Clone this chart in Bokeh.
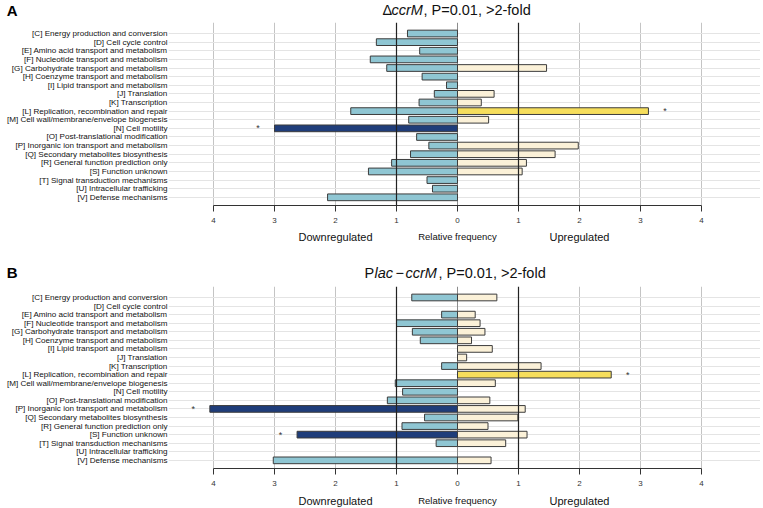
from bokeh.plotting import figure
from bokeh.models import (Range1d, FixedTicker, Span, ColumnDataSource,
                          CustomJSTickFormatter)
from bokeh.layouts import column
from bokeh.core.properties import value
from bokeh.embed import file_html
from bokeh.resources import INLINE

FONT = "Liberation Sans"

categories = [
    "[C] Energy production and conversion",
    "[D] Cell cycle control",
    "[E] Amino acid transport and metabolism",
    "[F] Nucleotide transport and metabolism",
    "[G] Carbohydrate transport and metabolism",
    "[H] Coenzyme transport and metabolism",
    "[I] Lipid transport and metabolism",
    "[J] Translation",
    "[K] Transcription",
    "[L] Replication, recombination and repair",
    "[M] Cell wall/membrane/envelope biogenesis",
    "[N] Cell motility",
    "[O] Post-translational modification",
    "[P] Inorganic ion transport and metabolism",
    "[Q] Secondary metabolites biosynthesis",
    "[R] General function prediction only",
    "[S] Function unknown",
    "[T] Signal transduction mechanisms",
    "[U] Intracellular trafficking",
    "[V] Defense mechanisms",
]

# Panel A: delta ccrM
a_down = [0.82, 1.33, 0.62, 1.43, 1.16, 0.58, 0.18, 0.38, 0.63, 1.75,
          0.80, 3.00, 0.67, 0.47, 0.77, 1.08, 1.46, 0.50, 0.41, 2.13]
a_up = [0, 0, 0, 0, 1.46, 0, 0, 0.60, 0.39, 3.13,
        0.51, 0, 0, 1.98, 1.60, 1.13, 1.06, 0, 0, 0]
a_sig_down = ["N"]
a_sig_up = ["L"]

# Panel B: Plac-ccrM
b_down = [0.75, 0, 0.26, 1.00, 0.74, 0.61, 0, 0, 0.26, 0,
          1.02, 0.90, 1.15, 4.06, 0.54, 0.91, 2.63, 0.35, 0, 3.02]
b_up = [0.645, 0, 0.29, 0.37, 0.45, 0.23, 0.57, 0.15, 1.37, 2.52,
        0.62, 0, 0.53, 1.11, 0.99, 0.50, 1.14, 0.79, 0, 0.55]
b_sig_down = ["P", "S"]
b_sig_up = ["L"]

x_ticks = [-4, -3, -2, -1, 0, 1, 2, 3, 4]
side_labels = ["Downregulated", "Relative frequency", "Upregulated"]
side_pos = [-2, 0, 2]

C_DOWN = "#8fc6d3"
C_DOWN_SIG = "#1f3d7a"
C_UP = "#fbf1d8"
C_UP_SIG = "#f6de5c"
OUTLINE = "#3c3c3c"

W = 760
LEFT = 168
PX = 61.0          # pixels per unit
ZERO = 457         # page x of value 0
X0, X1 = (LEFT - ZERO) / PX, (W - ZERO) / PX
Y0, Y1 = -0.95, len(categories) - 1 + 1.28


def plain(h, with_y_axis=False):
    f = figure(width=W, height=h, output_backend="svg", toolbar_location=None,
               title=None, x_range=Range1d(X0, X1), y_range=Range1d(h, 0),
               x_axis_type=None, y_axis_type="linear" if with_y_axis else None,
               min_border_left=LEFT, min_border_right=0,
               min_border_top=0, min_border_bottom=0)
    f.outline_line_color = None
    f.background_fill_color = "white"
    f.border_fill_color = "white"
    f.grid.visible = False
    return f


def header(h, yc, letter, parts):
    f = plain(h, with_y_axis=True)
    ya = f.yaxis[0]
    ya.ticker = FixedTicker(ticks=[yc])
    ya.major_label_overrides = {yc: letter}
    ya.axis_line_color = None
    ya.major_tick_line_color = None
    ya.major_tick_out = 0
    ya.major_tick_in = 0
    ya.minor_tick_line_color = None
    ya.minor_tick_out = 0
    ya.major_label_standoff = LEFT - 6 - 11
    ya.major_label_text_font = FONT
    ya.major_label_text_font_size = "15px"
    ya.major_label_text_font_style = "bold"
    ya.major_label_text_color = "#000000"
    for off, txt, style in parts:
        f.text(x=[0], y=[yc], text=[txt], x_offset=off, text_font=value(FONT),
               text_font_size="14.5px", text_font_style=style, text_align="left",
               text_baseline="middle", text_color="#111111")
    return f


def footer(h, yc):
    f = plain(h)
    src = ColumnDataSource(dict(x=side_pos, y=[yc] * 3, t=side_labels,
                                s=["11px", "9.5px", "11px"]))
    f.text(x="x", y="y", text="t", source=src, text_font=value(FONT),
           text_font_size="s", text_align="center", text_baseline="middle",
           text_color="#111111")
    return f


def main_panel(down, up, sig_down, sig_up, height, bottom):
    n = len(categories)
    ypos = [n - 1 - i for i in range(n)]
    codes = [c[1] for c in categories]

    p = figure(width=W, height=height, output_backend="svg", toolbar_location=None,
               title=None, x_range=Range1d(X0, X1), y_range=Range1d(Y0, Y1),
               min_border_left=LEFT, min_border_right=0,
               min_border_top=0, min_border_bottom=bottom)
    p.outline_line_color = None
    p.background_fill_color = "white"
    p.border_fill_color = "white"

    p.xgrid.ticker = FixedTicker(ticks=[-4, -3, -2, 2, 3, 4])
    p.xgrid.grid_line_color = "#c4c4c4"
    p.ygrid.ticker = FixedTicker(ticks=ypos)
    p.ygrid.grid_line_color = "#e4e4e4"
    p.add_layout(Span(location=0, dimension="height", line_color="#8c8c8c",
                      line_width=1, level="underlay"))

    dsrc = ColumnDataSource(dict(
        y=[ypos[i] for i in range(n) if down[i] > 0],
        left=[-down[i] for i in range(n) if down[i] > 0],
        color=[C_DOWN_SIG if codes[i] in sig_down else C_DOWN
               for i in range(n) if down[i] > 0],
    ))
    p.hbar(y="y", left="left", right=0, height=0.78, source=dsrc,
           fill_color="color", line_color=OUTLINE, line_width=1)
    usrc = ColumnDataSource(dict(
        y=[ypos[i] for i in range(n) if up[i] > 0],
        right=[up[i] for i in range(n) if up[i] > 0],
        color=[C_UP_SIG if codes[i] in sig_up else C_UP
               for i in range(n) if up[i] > 0],
    ))
    p.hbar(y="y", left=0, right="right", height=0.78, source=usrc,
           fill_color="color", line_color=OUTLINE, line_width=1)

    sx, sy = [], []
    for i in range(n):
        if codes[i] in sig_down:
            sx.append(-down[i] - 0.27); sy.append(ypos[i])
        if codes[i] in sig_up:
            sx.append(up[i] + 0.27); sy.append(ypos[i])
    ssrc = ColumnDataSource(dict(x=sx, y=sy, t=["*"] * len(sx)))
    p.text(x="x", y="y", text="t", source=ssrc, text_font=value(FONT),
           text_font_size="9px", text_align="center", text_baseline="middle",
           text_color="#333333")

    for loc in (-1, 1):
        p.add_layout(Span(location=loc, dimension="height", line_color="#222222",
                          line_width=1.2))

    xa = p.xaxis[0]
    xa.ticker = FixedTicker(ticks=x_ticks)
    xa.formatter = CustomJSTickFormatter(code="return Math.abs(tick).toFixed(0);")
    xa.bounds = (-4, 4)
    xa.axis_line_color = "#333333"
    xa.major_tick_line_color = "#333333"
    xa.major_tick_out = 6
    xa.major_tick_in = 0
    xa.minor_tick_line_color = None
    xa.major_label_text_font = FONT
    xa.major_label_text_font_size = "8px"
    xa.major_label_text_color = "#333333"
    xa.major_label_standoff = 6

    ya = p.yaxis[0]
    ya.ticker = FixedTicker(ticks=ypos)
    ya.major_label_overrides = {ypos[i]: categories[i] for i in range(n)}
    ya.axis_line_color = None
    ya.major_tick_line_color = None
    ya.major_tick_out = 0
    ya.major_tick_in = 0
    ya.minor_tick_line_color = None
    ya.minor_tick_out = 0
    ya.major_label_standoff = 1
    ya.major_label_text_font = FONT
    ya.major_label_text_font_size = "8.1px"
    ya.major_label_text_color = "#111111"
    return p


title_a = [(-75, "\u0394", "normal"), (-66, "ccrM", "italic"),
           (-34, ", P=0.01, >2-fold", "normal")]
title_b = [(-93, "P", "normal"), (-83, "lac", "italic"), (-62, "\u2212", "normal"),
           (-52, "ccrM", "italic"), (-19, ", P=0.01, >2-fold", "normal")]

ha = header(22, 9.5, "A", title_a)
pa = main_panel(a_down, a_up, a_sig_down, a_sig_up, height=206, bottom=23)
fa = footer(17, 8)
hb = header(41, 27, "B", title_b)
pb = main_panel(b_down, b_up, b_sig_down, b_sig_up, height=205, bottom=23)
fb = footer(17, 9)

layout = column(ha, pa, fa, hb, pb, fb)
open("out.html", "w").write(file_html(layout, INLINE))
